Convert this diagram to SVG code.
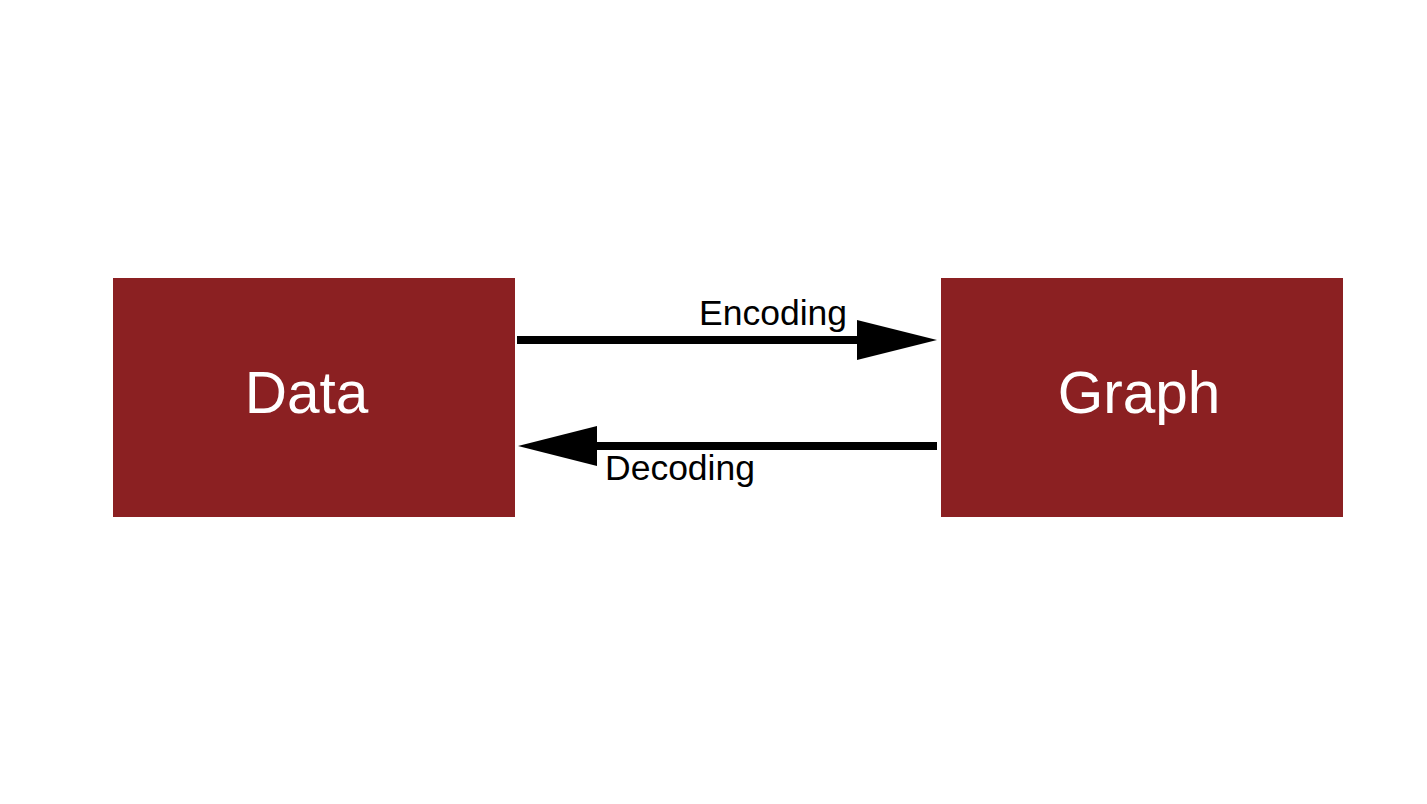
<svg xmlns="http://www.w3.org/2000/svg" width="1427" height="804" viewBox="0 0 1427 804">
<style>
.box{fill:#8B2022}
.nt{font-family:"Liberation Sans",Arial,sans-serif;font-size:58.5px;fill:#fff;text-anchor:middle}
.lbl{font-family:"Liberation Sans",Arial,sans-serif;font-size:35.5px;fill:#000}
.edge{stroke:#000;stroke-width:8;fill:none}
</style>
<rect width="1427" height="804" fill="#fff"/>
<g id="data">
<rect class="box" x="113" y="278" width="402" height="239"/>
<text class="nt" x="306.5" y="413">Data</text>
</g>
<g id="graph">
<rect class="box" x="941" y="278" width="402" height="239"/>
<text class="nt" x="1139" y="413">Graph</text>
</g>
<g id="connectors">
<line class="edge" x1="517" y1="340" x2="860" y2="340"/>
<polygon points="857,320 937,340 857,360"/>
<text class="lbl" x="699" y="325">Encoding</text>
<line class="edge" x1="594" y1="446" x2="937" y2="446"/>
<polygon points="597,426 518,446 597,466"/>
<text class="lbl" x="605" y="480">Decoding</text>
</g>
</svg>
